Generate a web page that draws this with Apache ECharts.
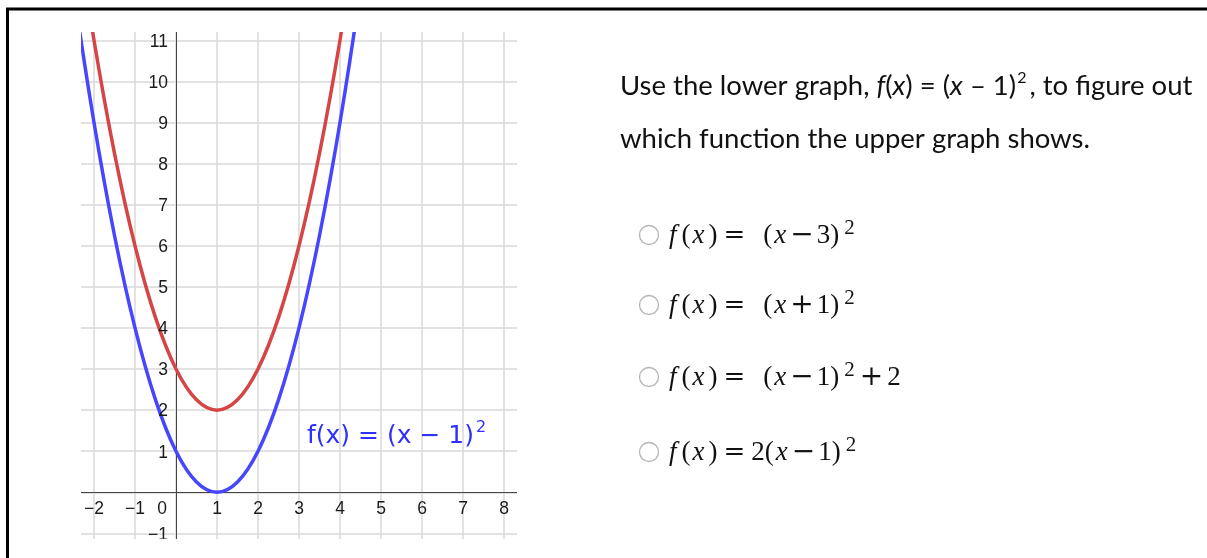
<!DOCTYPE html>
<html><head><meta charset="utf-8">
<script src="https://cdn.jsdelivr.net/npm/echarts@6/dist/echarts.min.js"></script>
<style>html,body{margin:0;padding:0;background:#fff}#c{width:1207px;height:558px}</style>
</head><body><div id="c"></div>
<script>
// ---- data ----
const curveX = [-3, -2.5, -2, -1.5, -1, -0.5, 0, 0.5, 1, 1.5, 2, 2.5, 3, 3.5, 4, 4.5, 5];
const lowerY = [16, 12.25, 9, 6.25, 4, 2.25, 1, 0.25, 0, 0.25, 1, 2.25, 4, 6.25, 9, 12.25, 16];
const upperY = [18, 14.25, 11, 8.25, 6, 4.25, 3, 2.25, 2, 2.25, 3, 4.25, 6, 8.25, 11, 14.25, 18];
const xTickValues = [-2, -1, 0, 1, 2, 3, 4, 5, 6, 7, 8];
const xTickLabels = ['−2', '−1', '0', '1', '2', '3', '4', '5', '6', '7', '8'];
const yTickValues = [-1, 1, 2, 3, 4, 5, 6, 7, 8, 9, 10, 11];
const yTickLabels = ['−1', '1', '2', '3', '4', '5', '6', '7', '8', '9', '10', '11'];
const curveLabel = '{m|f(x) = (x − 1)}{s|2}';
const questionLines = [
  'Use the lower graph, {i|f}({i|x}) = ({i|x} – 1){s|2}, to figure out',
  'which function the upper graph shows.'
];
const optionTexts = [
  '{f|f}{n|(}{x|x}{n|)}{rel|=}{n|(}{x|x}{bin|−}{n|3)}{s|2}',
  '{f|f}{n|(}{x|x}{n|)}{rel|=}{n|(}{x|x}{bin|+}{n|1)}{s|2}',
  '{f|f}{n|(}{x|x}{n|)}{rel|=}{n|(}{x|x}{bin|−}{n|1)}{s|2}{bin2|+}{n|2}',
  '{f|f}{n|(}{x|x}{n|)}{rel4|=}{n|2(}{x|x}{bin|−}{n|1)}{s|2}'
];

// ---- chart ----
const chart = echarts.init(document.getElementById('c'), null, { renderer: 'canvas' });

const BLUE = '#4646ff', RED = '#d64545';
const serif = 'Liberation Serif';
const optRich = {
  f: { fontFamily: serif, fontStyle: 'italic', fontSize: 27, fill: '#111', padding: [0, 5, 0, 2] },
  x: { fontFamily: serif, fontStyle: 'italic', fontSize: 27, fill: '#111', padding: [0, 4, 0, 2] },
  n: { fontFamily: serif, fontSize: 27, fill: '#111' },
  rel: { fontFamily: 'DejaVu Serif', fontSize: 26, fill: '#111', padding: [0, 18, 0, 6] },
  rel4: { fontFamily: 'DejaVu Serif', fontSize: 26, fill: '#111', padding: [0, 6, 0, 6] },
  bin: { fontFamily: 'DejaVu Serif', fontSize: 28, fill: '#111', padding: [0, 3, 0, 0] },
  bin2: { fontFamily: 'DejaVu Serif', fontSize: 28, fill: '#111', padding: [0, 4, 0, 5] },
  s: { fontFamily: serif, fontSize: 21, fill: '#111', padding: [0, 0, 15, 5] }
};
const rowY = [235, 305, 377, 452];

const graphics = [];
// masks that clip the plotting window
graphics.push({ type: 'rect', z: 100, shape: { x: 0, y: 0, width: 81, height: 558 }, style: { fill: '#fff' } });
graphics.push({ type: 'rect', z: 100, shape: { x: 0, y: 0, width: 600, height: 32 }, style: { fill: '#fff' } });
graphics.push({ type: 'rect', z: 100, shape: { x: 517, y: 0, width: 90, height: 558 }, style: { fill: '#fff' } });
graphics.push({ type: 'rect', z: 100, shape: { x: 0, y: 539, width: 600, height: 19 }, style: { fill: '#fff' } });
// frame
graphics.push({ type: 'line', z: 110, shape: { x1: 6, y1: 9, x2: 1207, y2: 9 }, style: { stroke: '#000', lineWidth: 3 } });
graphics.push({ type: 'line', z: 110, shape: { x1: 7.5, y1: 8, x2: 7.5, y2: 558 }, style: { stroke: '#000', lineWidth: 3 } });
// curve label
graphics.push({ type: 'text', z: 50, x: 307, y: 436, style: {
  text: curveLabel, verticalAlign: 'middle', fill: '#2f2fff',
  rich: {
    m: { fontFamily: 'DejaVu Sans', fontSize: 25, fill: '#2f2fff' },
    s: { fontFamily: 'DejaVu Sans', fontSize: 16, fill: '#2f2fff', padding: [0, 0, 16, 2] }
  }
}});
// question text
questionLines.forEach((t, i) => {
  graphics.push({ type: 'text', z: 50, x: 620, y: 86 + i * 53, style: {
    text: t, verticalAlign: 'middle', fontFamily: 'Lato', fontSize: 27.5, fill: '#111',
    rich: {
      i: { fontFamily: 'Lato', fontStyle: 'italic', fontSize: 27.5, fill: '#111' },
      s: { fontFamily: 'Lato', fontSize: 16, fill: '#111', padding: [0, 3, 16, 1] }
    }
  }});
});
// options
optionTexts.forEach((t, i) => {
  graphics.push({ type: 'circle', z: 50, shape: { cx: 649, cy: rowY[i], r: 9.5 }, style: { fill: '#fff', stroke: '#b5b5b5', lineWidth: 1.3 } });
  graphics.push({ type: 'text', z: 50, x: 667, y: rowY[i] + 1, style: {
    text: t, verticalAlign: 'middle', fontFamily: serif, fontSize: 27, fill: '#111', rich: optRich
  }});
});

const option = {
  animation: false,
  backgroundColor: '#fff',
  grid: { left: 53, width: 492, top: -0.8, height: 575.3, containLabel: false, outerBoundsMode: 'none' },
  xAxis: {
    type: 'value', min: -3, max: 9, interval: 1,
    axisLine: { onZero: true, lineStyle: { color: '#444', width: 1 } },
    axisTick: { show: false },
    splitLine: { show: true, lineStyle: { color: '#d9d9d9', width: 1.5 } },
    axisLabel: { show: false }
  },
  yAxis: {
    type: 'value', min: -2, max: 12, interval: 1,
    axisLine: { onZero: true, lineStyle: { color: '#444', width: 1 } },
    axisTick: { show: false },
    splitLine: { show: true, lineStyle: { color: '#d9d9d9', width: 1.5 } },
    axisLabel: { show: false }
  },
  series: [
    { type: 'line', name: 'lower', data: curveX.map((x, i) => [x, lowerY[i]]), showSymbol: false,
      smooth: 0.35, lineStyle: { color: BLUE, width: 3.5 }, itemStyle: { color: BLUE } },
    { type: 'line', name: 'upper', data: curveX.map((x, i) => [x, upperY[i]]), showSymbol: false,
      smooth: 0.35, lineStyle: { color: RED, width: 3.5 }, itemStyle: { color: RED } }
  ],
  graphic: graphics
};
chart.setOption(option);

// tick labels placed through the chart's own axis scales
const tickRich = { t: { fontFamily: 'Liberation Sans', fontSize: 17.5, fill: '#1a1a1a' } };
const labels = [];
xTickValues.forEach((v, i) => {
  const p = chart.convertToPixel({ xAxisIndex: 0, yAxisIndex: 0 }, [v, 0]);
  labels.push({ type: 'text', z: 60, x: p[0] + (v === 0 ? -14 : 0), y: p[1] + 17, style: {
    text: '{t|' + xTickLabels[i] + '}', rich: tickRich, align: 'center', verticalAlign: 'middle' } });
});
yTickValues.forEach((v, i) => {
  const p = chart.convertToPixel({ xAxisIndex: 0, yAxisIndex: 0 }, [0, v]);
  labels.push({ type: 'text', z: 60, x: p[0] - 8, y: p[1] + 1.5, style: {
    text: '{t|' + yTickLabels[i] + '}', rich: tickRich, align: 'right', verticalAlign: 'middle' } });
});
chart.setOption({ graphic: graphics.concat(labels) });
</script>
</body></html>
